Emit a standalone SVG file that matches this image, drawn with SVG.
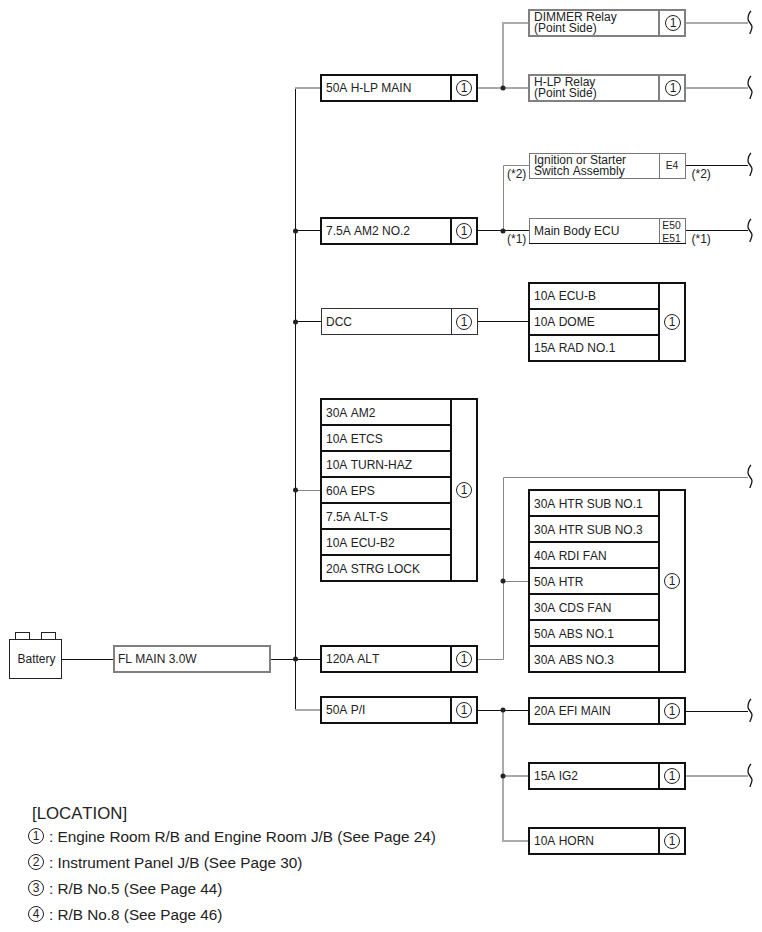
<svg xmlns="http://www.w3.org/2000/svg" width="762" height="932" viewBox="0 0 762 932">
<style>
text{font-family:"Liberation Sans",Arial,sans-serif;font-size:12px;fill:#222;font-kerning:none}
.box{fill:#fff;stroke:#111;stroke-width:2}
.thin{fill:#fff;stroke:#777;stroke-width:1}
.dk{fill:#fff;stroke:#333;stroke-width:1}
.gb{fill:#fff;stroke:#808080;stroke-width:2}
.sep{fill:none;stroke:#111;stroke-width:2}
.gsep{fill:none;stroke:#808080;stroke-width:2}
.tsep{fill:none;stroke:#777;stroke-width:1}
.c{fill:#fff;stroke:#222;stroke-width:1}
.n{text-anchor:middle;font-size:12px}
.k{fill:none;stroke:#111;stroke-width:1}
.g{fill:none;stroke:#aaa;stroke-width:2}
.h{fill:none;stroke:#888;stroke-width:1}
.br{fill:none;stroke:#111;stroke-width:1.300}
.d{fill:#222}
.e{font-size:10.300px;text-anchor:middle}
.l{font-size:15.300px}
</style>
<defs>
<path id="br" class="br" d="M751-12C748-9 748-7 748-4C748-1 752 1 752 4C752 7 750 9 750 11"/>
</defs>
<g id="connectors">
<path class="k" d="M62 659.500H114"/>
<path class="k" d="M270 659.500H321"/>
<path class="k" d="M295.500 88V710"/>
<path class="g" d="M295 88H321"/>
<path class="g" d="M295 710H321"/>
<path class="k" d="M295 230.500H321"/>
<path class="k" d="M295 321.500H321"/>
<path class="h" d="M295 490.500H321"/>
<path class="g" d="M477 88H529"/>
<path class="g" d="M503 88V23H529"/>
<path class="g" d="M686 23H748"/>
<path class="g" d="M686 88H748"/>
<path class="k" d="M477 230.500H529"/>
<path class="h" d="M503.500 231V165.500H529"/>
<path class="k" d="M686 165.500H748"/>
<path class="k" d="M686 230.500H748"/>
<path class="k" d="M477 321.500H529"/>
<path class="h" d="M477 659.500H503.500V477.500H748"/>
<path class="h" d="M503 581.500H529"/>
<path class="k" d="M477 710.500H529"/>
<path class="g" d="M503 710V841H529"/>
<path class="g" d="M503 776H529"/>
<path class="k" d="M686 711.500H748"/>
<path class="g" d="M686 776H748"/>
<circle class="d" cx="295.500" cy="231" r="2.500"/><circle class="d" cx="295.500" cy="322" r="2.500"/><circle class="d" cx="295.500" cy="490" r="2.500"/><circle class="d" cx="295.500" cy="659" r="2.500"/>
<circle class="d" cx="503" cy="88" r="2.500"/><circle class="d" cx="503" cy="231" r="2.500"/><circle class="d" cx="503" cy="581" r="2.500"/><circle class="d" cx="503" cy="710" r="2.500"/><circle class="d" cx="503" cy="776" r="2.500"/>
<use href="#br" x="0" y="23"/><use href="#br" x="0" y="88"/><use href="#br" x="0" y="165"/><use href="#br" x="0" y="231"/><use href="#br" x="0" y="477"/><use href="#br" x="0" y="711"/><use href="#br" x="0" y="776"/>
<text x="507" y="178">(*2)</text><text x="507" y="243">(*1)</text>
<text x="691.500" y="178">(*2)</text><text x="691.500" y="243">(*1)</text>
</g>
<g id="battery">
<rect x="15.500" y="632.500" width="14" height="7" fill="#fff" stroke="#222"/><rect x="41.500" y="632.500" width="14" height="7" fill="#fff" stroke="#222"/>
<rect x="9.500" y="639.500" width="52" height="39" fill="#fff" stroke="#222"/>
<text x="17.500" y="663">Battery</text>
</g>
<g id="fl-main"><rect class="gb" x="114" y="646" width="156" height="26"/><text x="118" y="663">FL MAIN 3.0W</text></g>
<g id="hlp-main"><rect class="box" x="321" y="75" width="156" height="26"/><path class="sep" d="M451 75V101"/><text x="326" y="92">50A H-LP MAIN</text><circle class="c" cx="464" cy="88" r="7.500"/><text class="n" x="464" y="92">1</text></g>
<g id="am2-no2"><rect class="box" x="321" y="218" width="156" height="26"/><path class="sep" d="M451 218V244"/><text x="326" y="235">7.5A AM2 NO.2</text><circle class="c" cx="464" cy="231" r="7.500"/><text class="n" x="464" y="235">1</text></g>
<g id="dcc"><rect class="dk" x="321.500" y="308.500" width="156" height="26"/><path class="dk" d="M451.500 308V334"/><text x="326" y="326">DCC</text><circle class="c" cx="464" cy="322" r="7.500"/><text class="n" x="464" y="326">1</text></g>
<g id="am2-group"><rect class="box" x="321" y="399" width="156" height="182"/><path class="sep" d="M451 399V581M321 425H451M321 451H451M321 477H451M321 503H451M321 529H451M321 555H451"/>
<text x="326" y="417">30A AM2</text><text x="326" y="443">10A ETCS</text><text x="326" y="469">10A TURN-HAZ</text><text x="326" y="495">60A EPS</text><text x="326" y="521">7.5A ALT-S</text><text x="326" y="547">10A ECU-B2</text><text x="326" y="573">20A STRG LOCK</text>
<circle class="c" cx="464" cy="490" r="7.500"/><text class="n" x="464" y="494">1</text></g>
<g id="alt-120"><rect class="box" x="321" y="646" width="156" height="26"/><path class="sep" d="M451 646V672"/><text x="326" y="663">120A ALT</text><circle class="c" cx="464" cy="659" r="7.500"/><text class="n" x="464" y="663">1</text></g>
<g id="pi-50"><rect class="box" x="321" y="697" width="156" height="26"/><path class="sep" d="M451 697V723"/><text x="326" y="714">50A P/I</text><circle class="c" cx="464" cy="710" r="7.500"/><text class="n" x="464" y="714">1</text></g>
<g id="dimmer"><rect class="gb" x="529" y="10" width="156" height="26"/><path class="gsep" d="M659 10V36"/><text x="534" y="21">DIMMER Relay</text><text x="534" y="32">(Point Side)</text><circle class="c" cx="673" cy="23" r="7.500"/><text class="n" x="673" y="27">1</text></g>
<g id="hlp-relay"><rect class="gb" x="529" y="75" width="156" height="26"/><path class="gsep" d="M659 75V101"/><text x="534" y="86">H-LP Relay</text><text x="534" y="97">(Point Side)</text><circle class="c" cx="673" cy="88" r="7.500"/><text class="n" x="673" y="92">1</text></g>
<g id="ignition"><rect class="thin" x="529.500" y="153.500" width="156" height="25"/><path class="tsep" d="M659.500 153V179"/><text x="534" y="164">Ignition or Starter</text><text x="534" y="175">Switch Assembly</text><text class="e" x="672" y="169">E4</text></g>
<g id="main-body-ecu"><rect class="thin" x="529.500" y="218.500" width="156" height="25"/><path class="tsep" d="M659.500 218V244"/><path class="k" d="M529 243.500H686"/><text x="534" y="235">Main Body ECU</text><text class="e" x="671.500" y="229">E50</text><text class="e" x="671.500" y="242">E51</text></g>
<g id="ecu-group"><rect class="box" x="529" y="283" width="156" height="78"/><path class="sep" d="M659 283V361M529 309H659M529 335H659"/><text x="534" y="300">10A ECU-B</text><text x="534" y="326">10A DOME</text><text x="534" y="352">15A RAD NO.1</text><circle class="c" cx="672" cy="322" r="7.500"/><text class="n" x="672" y="326">1</text></g>
<g id="htr-group"><rect class="box" x="529" y="490" width="156" height="182"/><path class="sep" d="M659 490V672M529 516H659M529 542H659M529 568H659M529 594H659M529 620H659M529 646H659"/>
<text x="534" y="508">30A HTR SUB NO.1</text><text x="534" y="534">30A HTR SUB NO.3</text><text x="534" y="560">40A RDI FAN</text><text x="534" y="586">50A HTR</text><text x="534" y="612">30A CDS FAN</text><text x="534" y="638">50A ABS NO.1</text><text x="534" y="664">30A ABS NO.3</text>
<circle class="c" cx="672" cy="581" r="7.500"/><text class="n" x="672" y="585">1</text></g>
<g id="efi-main"><rect class="box" x="529" y="698" width="156" height="26"/><path class="sep" d="M659 698V724"/><text x="534" y="715">20A EFI MAIN</text><circle class="c" cx="672" cy="711" r="7.500"/><text class="n" x="672" y="715">1</text></g>
<g id="ig2"><rect class="box" x="529" y="763" width="156" height="26"/><path class="sep" d="M659 763V789"/><text x="534" y="780">15A IG2</text><circle class="c" cx="672" cy="776" r="7.500"/><text class="n" x="672" y="780">1</text></g>
<g id="horn"><rect class="box" x="529" y="828" width="156" height="26"/><path class="sep" d="M659 828V854"/><text x="534" y="845">10A HORN</text><circle class="c" cx="672" cy="841" r="7.500"/><text class="n" x="672" y="845">1</text></g>
<g id="legend">
<text x="32" y="819" style="font-size:16.800px">[LOCATION]</text>
<circle class="c" cx="36" cy="836" r="7.500"/><text class="n" x="36" y="840">1</text><text class="l" x="49" y="842">: Engine Room R/B and Engine Room J/B (See Page 24)</text>
<circle class="c" cx="36" cy="862" r="7.500"/><text class="n" x="36" y="866">2</text><text class="l" x="49" y="868">: Instrument Panel J/B (See Page 30)</text>
<circle class="c" cx="36" cy="888" r="7.500"/><text class="n" x="36" y="892">3</text><text class="l" x="49" y="894">: R/B No.5 (See Page 44)</text>
<circle class="c" cx="36" cy="914" r="7.500"/><text class="n" x="36" y="918">4</text><text class="l" x="49" y="920">: R/B No.8 (See Page 46)</text>
</g>
</svg>
